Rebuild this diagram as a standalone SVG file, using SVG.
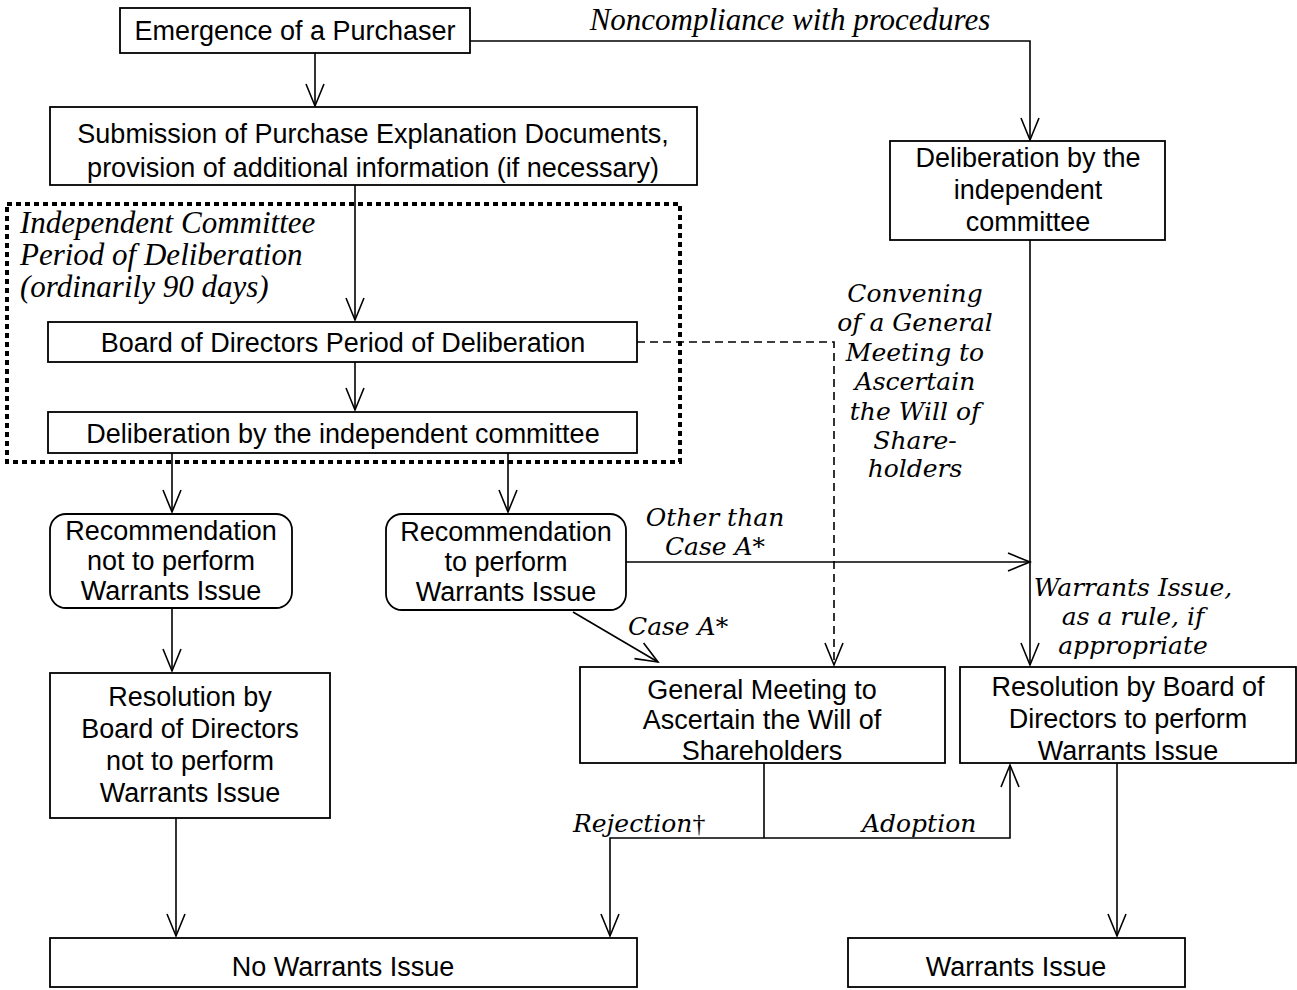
<svg xmlns="http://www.w3.org/2000/svg" width="1297" height="990" viewBox="0 0 1297 990">
<defs>
<marker id="arr" markerUnits="userSpaceOnUse" markerWidth="26" markerHeight="22" refX="23" refY="11" orient="auto">
<path d="M1,2 L23,11 L1,20" fill="none" stroke="#000" stroke-width="1.6"/>
</marker>
<style>
.box{fill:#fff;stroke:#000;stroke-width:1.8}
.t{font-family:"Liberation Sans",Arial,sans-serif;font-size:27px;text-anchor:middle;fill:#000}
.it{font-family:"Liberation Serif","Times New Roman",serif;font-style:italic;font-size:31px;fill:#000}
.ib{font-family:"DejaVu Serif",serif;font-style:italic;font-size:25px;fill:#000}
.c{fill:none;stroke:#000;stroke-width:1.6}
.d{fill:none;stroke:#000;stroke-width:1.6;stroke-dasharray:8 5}
</style>
</defs>
<rect width="1297" height="990" fill="#fff"/>

<g id="connectors">
<path class="c" d="M315,53 V106" marker-end="url(#arr)"/>
<path class="c" d="M470,41 H1030 V140" marker-end="url(#arr)"/>
<path class="c" d="M355,185 V320" marker-end="url(#arr)"/>
<path class="c" d="M355,362 V410" marker-end="url(#arr)"/>
<path class="d" d="M637,342 H834 V665" marker-end="url(#arr)"/>
<path class="c" d="M1030,240 V665" marker-end="url(#arr)"/>
<path class="c" d="M172,453 V512" marker-end="url(#arr)"/>
<path class="c" d="M508,453 V512" marker-end="url(#arr)"/>
<path class="c" d="M626,562 H1030" marker-end="url(#arr)"/>
<path class="c" d="M573,612 L658,662" marker-end="url(#arr)"/>
<path class="c" d="M172,608 V671" marker-end="url(#arr)"/>
<path class="c" d="M176,818 V936" marker-end="url(#arr)"/>
<path class="c" d="M764,763 V838"/>
<path class="c" d="M764,838 H610 V936" marker-end="url(#arr)"/>
<path class="c" d="M764,838 H1010 V765" marker-end="url(#arr)"/>
<path class="c" d="M1117,763 V936" marker-end="url(#arr)"/>
<text class="it" x="790" y="30" text-anchor="middle">Noncompliance with procedures</text>
<text class="ib" text-anchor="middle"><tspan x="915" y="302">Convening</tspan><tspan x="915" y="331">of a General</tspan><tspan x="915" y="361">Meeting to</tspan><tspan x="915" y="390">Ascertain</tspan><tspan x="915" y="420">the Will of</tspan><tspan x="915" y="449">Share-</tspan><tspan x="915" y="477">holders</tspan></text>
<text class="ib" text-anchor="middle"><tspan x="715" y="526">Other than</tspan><tspan x="715" y="555">Case A*</tspan></text>
<text class="ib" x="628" y="635">Case A*</text>
<text class="ib" text-anchor="middle" font-size="24"><tspan x="1133" y="596">Warrants Issue,</tspan><tspan x="1133" y="625">as a rule, if</tspan><tspan x="1133" y="654">appropriate</tspan></text>
<text class="ib" x="573" y="832">Rejection<tspan font-family="Liberation Serif,serif" font-style="normal" font-size="26">†</tspan></text>
<text class="ib" x="862" y="832">Adoption</text>
</g>

<g id="committee-period">
<rect x="7" y="204" width="673" height="258" fill="none" stroke="#000" stroke-width="4" stroke-dasharray="5 4"/>
<text class="it" font-size="30"><tspan x="20" y="233">Independent Committee</tspan><tspan x="20" y="265">Period of Deliberation</tspan><tspan x="20" y="297">(ordinarily 90 days)</tspan></text>
</g>

<g id="n-emergence">
<rect class="box" x="120" y="8" width="350" height="45"/>
<text class="t" x="295" y="40">Emergence of a Purchaser</text>
</g>
<g id="n-submission">
<rect class="box" x="50" y="107" width="647" height="78"/>
<text class="t"><tspan x="373" y="143">Submission of Purchase Explanation Documents,</tspan><tspan x="373" y="177">provision of additional information (if necessary)</tspan></text>
</g>
<g id="n-delib-right">
<rect class="box" x="890" y="141" width="275" height="99"/>
<text class="t"><tspan x="1028" y="167">Deliberation by the</tspan><tspan x="1028" y="199">independent</tspan><tspan x="1028" y="231">committee</tspan></text>
</g>
<g id="n-board">
<rect class="box" x="48" y="322" width="589" height="40"/>
<text class="t" x="343" y="352">Board of Directors Period of Deliberation</text>
</g>
<g id="n-delib">
<rect class="box" x="48" y="412" width="589" height="41"/>
<text class="t" x="343" y="443">Deliberation by the independent committee</text>
</g>
<g id="n-rec-not">
<rect class="box" x="50" y="514" width="242" height="94" rx="16"/>
<text class="t"><tspan x="171" y="540">Recommendation</tspan><tspan x="171" y="570">not to perform</tspan><tspan x="171" y="600">Warrants Issue</tspan></text>
</g>
<g id="n-rec">
<rect class="box" x="386" y="514" width="240" height="96" rx="16"/>
<text class="t"><tspan x="506" y="541">Recommendation</tspan><tspan x="506" y="571">to perform</tspan><tspan x="506" y="601">Warrants Issue</tspan></text>
</g>
<g id="n-res-not">
<rect class="box" x="50" y="673" width="280" height="145"/>
<text class="t"><tspan x="190" y="706">Resolution by</tspan><tspan x="190" y="738">Board of Directors</tspan><tspan x="190" y="770">not to perform</tspan><tspan x="190" y="802">Warrants Issue</tspan></text>
</g>
<g id="n-gm">
<rect class="box" x="580" y="667" width="365" height="96"/>
<text class="t"><tspan x="762" y="699">General Meeting to</tspan><tspan x="762" y="729">Ascertain the Will of</tspan><tspan x="762" y="760">Shareholders</tspan></text>
</g>
<g id="n-res">
<rect class="box" x="960" y="667" width="336" height="96"/>
<text class="t"><tspan x="1128" y="696">Resolution by Board of</tspan><tspan x="1128" y="728">Directors to perform</tspan><tspan x="1128" y="760">Warrants Issue</tspan></text>
</g>
<g id="n-no-warrants">
<rect class="box" x="50" y="938" width="587" height="49"/>
<text class="t" x="343" y="976">No Warrants Issue</text>
</g>
<g id="n-warrants">
<rect class="box" x="848" y="938" width="337" height="49"/>
<text class="t" x="1016" y="976">Warrants Issue</text>
</g>
</svg>
